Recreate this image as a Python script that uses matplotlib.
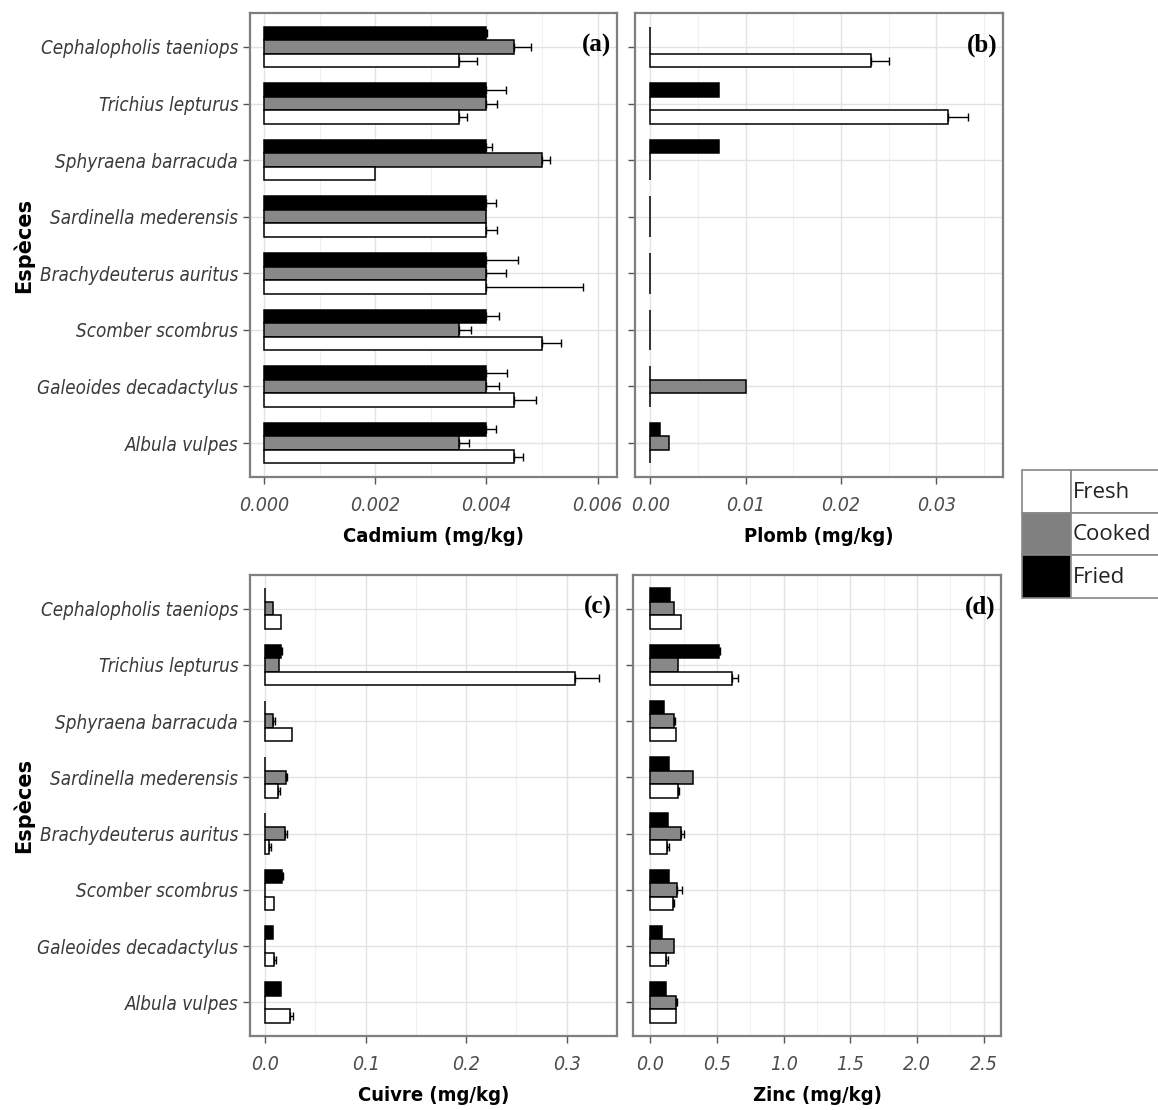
import numpy as np
import matplotlib.pyplot as plt
from matplotlib.patches import Rectangle
from matplotlib.ticker import FormatStrFormatter, MultipleLocator

# species, top to bottom
species = ['Cephalopholis taeniops', 'Trichius lepturus', 'Sphyraena barracuda',
           'Sardinella mederensis', 'Brachydeuterus auritus', 'Scomber scombrus',
           'Galeoides decadactylus', 'Albula vulpes']
treatments = ['Fresh', 'Cooked', 'Fried']
colors = {'Fresh': '#ffffff', 'Cooked': '#888888', 'Fried': '#000000'}

# Cadmium (mg/kg)
cd_fresh = [0.0035, 0.0035, 0.0020, 0.0040, 0.0040, 0.0050, 0.0045, 0.0045]
cd_fresh_err = [0.00034, 0.00016, 0.0, 0.0002, 0.00174, 0.00035, 0.00039, 0.00016]
cd_cooked = [0.0045, 0.0040, 0.0050, 0.0040, 0.0040, 0.0035, 0.0040, 0.0035]
cd_cooked_err = [0.0003, 0.0002, 0.00014, 0.0, 0.00036, 0.00022, 0.00023, 0.00019]
cd_fried = [0.0040, 0.0040, 0.0040, 0.0040, 0.0040, 0.0040, 0.0040, 0.0040]
cd_fried_err = [0.00002, 0.00035, 0.0001, 0.00017, 0.00057, 0.00023, 0.00038, 0.00017]

# Plomb (mg/kg)
pb_fresh = [0.0232, 0.0312, 0.0, 0.0, 0.0, 0.0, 0.0, 0.0]
pb_fresh_err = [0.0018, 0.0021, 0.0, 0.0, 0.0, 0.0, 0.0, 0.0]
pb_cooked = [0.0, 0.0, 0.0, 0.0, 0.0, 0.0, 0.0100, 0.0020]
pb_cooked_err = [0.0, 0.0, 0.0, 0.0, 0.0, 0.0, 0.0, 0.0]
pb_fried = [0.0, 0.0072, 0.0072, 0.0, 0.0, 0.0, 0.0, 0.0010]
pb_fried_err = [0.0, 0.0, 0.0, 0.0, 0.0, 0.0, 0.0, 0.0]

# Cuivre (mg/kg)
cu_fresh = [0.0156, 0.308, 0.0265, 0.013, 0.0043, 0.009, 0.009, 0.0248]
cu_fresh_err = [0.0, 0.024, 0.0, 0.0015, 0.0012, 0.0, 0.0015, 0.0033]
cu_cooked = [0.0083, 0.0142, 0.008, 0.021, 0.020, 0.0, 0.0, 0.0]
cu_cooked_err = [0.0, 0.0, 0.0015, 0.0012, 0.0015, 0.0, 0.0, 0.0]
cu_fried = [0.0, 0.0156, 0.0, 0.0, 0.0, 0.0166, 0.0076, 0.0156]
cu_fried_err = [0.0, 0.001, 0.0, 0.0, 0.0, 0.001, 0.0, 0.0]

# Zinc (mg/kg)
zn_fresh = [0.23, 0.61, 0.19, 0.205, 0.125, 0.17, 0.12, 0.19]
zn_fresh_err = [0.0, 0.05, 0.0, 0.012, 0.012, 0.008, 0.01, 0.0]
zn_cooked = [0.175, 0.205, 0.175, 0.32, 0.23, 0.20, 0.175, 0.19]
zn_cooked_err = [0.0, 0.0, 0.012, 0.0, 0.02, 0.04, 0.0, 0.008]
zn_fried = [0.15, 0.515, 0.10, 0.14, 0.13, 0.14, 0.0875, 0.12]
zn_fried_err = [0.0, 0.008, 0.0, 0.0, 0.0, 0.0, 0.0, 0.0]

narrow = ['DejaVu Sans']
serif = ['Liberation Serif', 'DejaVu Serif']
ST = 'condensed'

W, H = 1158, 1110
fig = plt.figure(figsize=(W / 100, H / 100), dpi=100)


def px_axes(x0, y0, x1, y1):
    return fig.add_axes([x0 / W, 1 - y1 / H, (x1 - x0) / W, (y1 - y0) / H])


def draw_panel(ax, fresh, fresh_err, cooked, cooked_err, fried, fried_err,
               xlim, major, fmt, xlabel, tag, show_y):
    y = np.arange(len(species))
    h = 0.24
    series = [('Fried', fried, fried_err, -h), ('Cooked', cooked, cooked_err, 0.0),
              ('Fresh', fresh, fresh_err, h)]
    for name, vals, errs, off in series:
        vals = np.asarray(vals)
        errs = np.asarray(errs)
        ax.barh(y + off, vals, height=h, color=colors[name], edgecolor='black',
                linewidth=1.1, zorder=3)
        m = errs > 0
        if m.any():
            ax.errorbar(vals[m], y[m] + off, xerr=[np.zeros(m.sum()), errs[m]],
                        fmt='none', ecolor='black', elinewidth=1.0, capsize=3,
                        capthick=1.0, zorder=4)
    ax.set_ylim(len(species) - 0.4, -0.6)
    ax.set_xlim(*xlim)
    ax.set_yticks(y)
    ax.xaxis.set_major_locator(MultipleLocator(major))
    ax.xaxis.set_minor_locator(MultipleLocator(major / 2))
    ax.xaxis.set_major_formatter(FormatStrFormatter(fmt))
    ax.grid(True, which='major', color='#e3e3e3', linewidth=1.0, zorder=0)
    ax.grid(True, which='minor', axis='x', color='#f0f0f0', linewidth=0.8, zorder=0)
    ax.set_axisbelow(True)
    for s in ax.spines.values():
        s.set_color('#7f7f7f')
        s.set_linewidth(1.6)
    ax.tick_params(axis='both', which='major', color='#555555', length=5,
                   width=1.0, labelcolor='#4d4d4d')
    ax.tick_params(axis='x', which='major', pad=9)
    ax.tick_params(axis='x', which='minor', length=0)
    for lab in ax.get_xticklabels():
        lab.set_family(narrow)
        lab.set_stretch(ST)
        lab.set_style('italic')
        lab.set_fontsize(14)
    if show_y:
        ax.set_yticklabels(species, family=narrow, stretch=ST, style='italic',
                           fontsize=13.5, color='#3a3a3a')
        ax.set_ylabel('Espèces', family=narrow, fontweight='bold',
                      fontsize=15, labelpad=2)
    else:
        ax.set_yticklabels([])
    ax.set_xlabel(xlabel, family=narrow, stretch=ST, fontweight='bold',
                  fontsize=14.5, labelpad=8)
    ax.text(0.985, 0.93, tag, transform=ax.transAxes, ha='right', va='center',
            family=serif, fontweight='bold', fontsize=18)


ax_a = px_axes(250, 13, 617, 477)
draw_panel(ax_a, cd_fresh, cd_fresh_err, cd_cooked, cd_cooked_err, cd_fried, cd_fried_err,
           (-0.00025, 0.00635), 0.002, '%.3f', 'Cadmium (mg/kg)', '(a)', True)
ax_b = px_axes(635, 13, 1003, 477)
draw_panel(ax_b, pb_fresh, pb_fresh_err, pb_cooked, pb_cooked_err, pb_fried, pb_fried_err,
           (-0.0016, 0.0370), 0.01, '%.2f', 'Plomb (mg/kg)', '(b)', False)
ax_c = px_axes(250, 575, 617, 1036)
draw_panel(ax_c, cu_fresh, cu_fresh_err, cu_cooked, cu_cooked_err, cu_fried, cu_fried_err,
           (-0.015, 0.35), 0.1, '%.1f', 'Cuivre (mg/kg)', '(c)', True)
ax_d = px_axes(633, 575, 1001, 1036)
draw_panel(ax_d, zn_fresh, zn_fresh_err, zn_cooked, zn_cooked_err, zn_fried, zn_fried_err,
           (-0.13, 2.63), 0.5, '%.1f', 'Zinc (mg/kg)', '(d)', False)

# legend drawn as a small table on the right
lg = px_axes(1022, 470, 1158, 598)
lg.set_xlim(0, 136)
lg.set_ylim(128, 0)
lg.axis('off')
row_h = 128 / 3
for i, name in enumerate(treatments):
    y0 = i * row_h
    lg.add_patch(Rectangle((0, y0), 49, row_h,
                           facecolor='#808080' if name == 'Cooked' else colors[name],
                           edgecolor='#888888', linewidth=1.2, clip_on=False))
    lg.add_patch(Rectangle((49, y0), 100, row_h, facecolor='white',
                           edgecolor='#888888', linewidth=1.2, clip_on=False))
    lg.text(51, y0 + row_h / 2 + 1, name, ha='left', va='center', fontsize=16,
            family=['Open Sans', 'DejaVu Sans'], color='#222222', clip_on=False)

fig.savefig('out.png', dpi=100)
